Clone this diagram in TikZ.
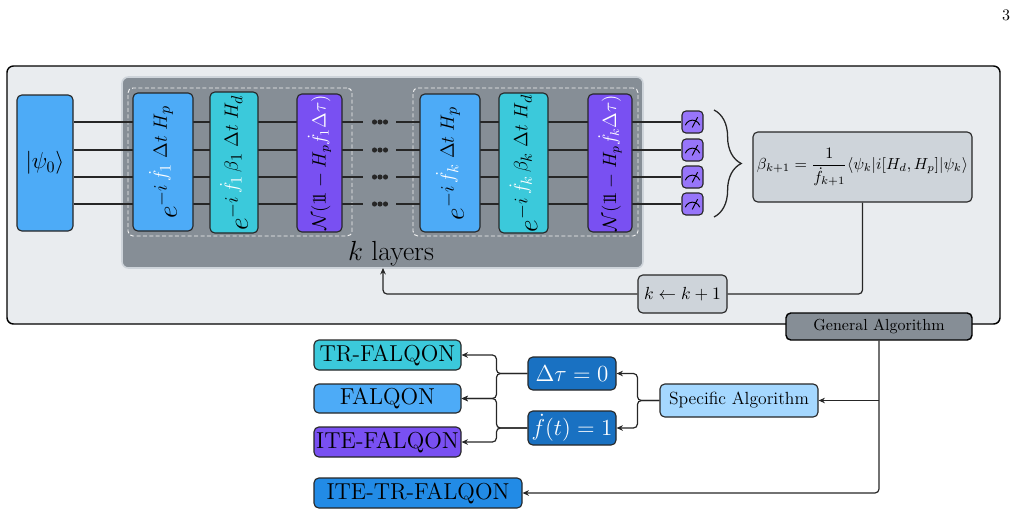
\documentclass[tikz,border=0pt]{standalone}
\usepackage{amsmath,amssymb}
\IfFileExists{dsfont.sty}{\usepackage{dsfont}\newcommand\onebb{\mathds{1}}}{\newcommand\onebb{1\kern-0.3em1}}
\usetikzlibrary{fit,arrows.meta,decorations.pathreplacing,calc}
\definecolor{cblue}{HTML}{4DABF7}
\definecolor{ccyan}{HTML}{3BC9DB}
\definecolor{cviolet}{HTML}{7950F2}
\definecolor{cmeas}{HTML}{9775FA}
\definecolor{cdark}{HTML}{1971C2}
\definecolor{cmid}{HTML}{228BE6}
\definecolor{clight}{HTML}{A5D8FF}
\definecolor{grayA}{HTML}{E9ECEF}
\definecolor{grayB}{HTML}{CED4DA}
\definecolor{grayC}{HTML}{868E96}
\definecolor{grayD}{HTML}{ADB5BD}
\tikzset{
  bx/.style={draw=black!85, line width=0.7pt, rounded corners=3pt, inner sep=0pt},
  wire/.style={line width=0.75pt, black!85},
  conn/.style={line width=0.75pt, black!85, rounded corners=2.5pt},
  arr/.style={conn, -{Stealth[length=4pt,width=3.5pt]}},
  dashbox/.style={draw=white!90!gray, line width=0.6pt, dash pattern=on 2.5pt off 1.5pt, rounded corners=3pt, inner sep=0pt},
}
\begin{document}
\begin{tikzpicture}[x=0.625pt,y=-0.625pt]
\useasboundingbox (0,0) rectangle (1018,513);
\node at (1006,15) {3};
% outer box
\node[bx, draw=black, line width=0.9pt, rounded corners=4pt, fill=grayA, fit={(7,66)(1000,324)}] (outer) {};
% k layers box
\node[inner sep=0pt, rounded corners=4pt, fill=grayC, draw=grayB, line width=1pt, fit={(122,77)(643,268)}] (layers) {};
\node[font=\LARGE] at (391,254) {$k$ layers};
\node[dashbox, fit={(128,88)(352,236)}] (dash1) {};
\node[dashbox, fit={(413,88)(638,236)}] (dash2) {};
% psi0
\node[bx, fill=cblue, fit={(17,95)(73,231)}] (psi) {};
\node[font=\Large] at (psi) {$|\psi_0\rangle$};
% measurement boxes
\foreach \i/\y in {1/122,2/150,3/177,4/204}{
  \node[bx, fill=cmeas, rounded corners=2.5pt, fit={(682,\y-11)(703,\y+11)}] (m\i) {};
  \coordinate (dl\i) at (363,\y);
  \coordinate (dr\i) at (396,\y);
  \draw[wire] (psi.east |- dl\i) -- (dl\i);
  \draw[wire] (dr\i) -- (m\i.west);
  \foreach \xx in {374.5,380,385.5}{\fill[black!85] (\xx,\y) circle (1.6pt);}
  \draw[line width=0.6pt] ([shift={(-4.5pt,-2pt)}]m\i.center) arc[start angle=160,end angle=20,radius=4.8pt];
  \draw[line width=0.6pt] ([shift={(-0.2pt,-3.4pt)}]m\i.center) -- ([shift={(3.2pt,3pt)}]m\i.center);
}
% gates
\node[bx, fill=cblue, fit={(133,93)(193,231)}] (g1) {};
\node[bx, fill=ccyan, fit={(210,92)(258,233)}] (g2) {};
\node[bx, fill=cviolet, fit={(297,94)(342,232)}] (g3) {};
\node[bx, fill=cblue, fit={(420,94)(480,232)}] (g4) {};
\node[bx, fill=ccyan, fit={(499,93)(548,233)}] (g5) {};
\node[bx, fill=cviolet, fit={(588,94)(632,232)}] (g6) {};
\node[rotate=90, font=\LARGE] at (g1) {$e^{-i\,\textcolor{white}{\dot f_1}\;\Delta t\; H_p}$};
\node[rotate=90, font=\LARGE] at (g2) {$e^{-i\,\textcolor{white}{\dot f_1}\,\beta_1\;\Delta t\; H_d}$};
\node[rotate=90, font=\large] at (g3) {$\mathcal N(\onebb-H_p\textcolor{white}{\dot f_1\Delta\tau)}$};
\node[rotate=90, font=\LARGE] at (g4) {$e^{-i\,\textcolor{white}{\dot f_k}\;\Delta t\; H_p}$};
\node[rotate=90, font=\LARGE] at (g5) {$e^{-i\,\textcolor{white}{\dot f_k}\,\beta_k\;\Delta t\; H_d}$};
\node[rotate=90, font=\large] at (g6) {$\mathcal N(\onebb-H_p\textcolor{white}{\dot f_k\Delta\tau)}$};
% brace
\draw[decorate, decoration={brace, amplitude=17pt}, line width=0.8pt, black!85] (714,110) -- (714,217);
% beta box
\node[bx, fill=grayB, fit={(753,132)(972,202)}] (beta) {};
\node at (beta) {$\beta_{k+1}=\dfrac{1}{\dot f_{k+1}}\langle\psi_k|i[H_d,H_p]|\psi_k\rangle$};
% k <- k+1
\node[bx, fill=grayB, fit={(638,275)(727,313)}] (kbox) {};
\node[font=\fontsize{11}{13}\selectfont] at (kbox) {$k\leftarrow k+1$};
\draw[conn] (beta.south) |- (kbox.east);
\coordinate (ka) at (383,268);
\draw[arr] (kbox.west) -| (ka);
% general algorithm
\node[bx, draw=black, line width=0.9pt, fill=grayC, fit={(786,313)(972,340)}] (gen) {};
\node at (gen) {General Algorithm};
% bottom boxes
\node[bx, fill=clight, fit={(660,384)(818,417)}] (spec) {};
\node[font=\fontsize{11}{13}\selectfont] at (spec) {Specific Algorithm};
\node[bx, fill=cdark, fit={(528,357)(616,390)}] (dt) {};
\node[font=\Large, text=white] at (dt) {$\Delta\tau=0$};
\node[bx, fill=cdark, fit={(528,411)(616,445)}] (fd) {};
\node[font=\Large, text=white] at (fd) {$\dot f(t)=1$};
\node[bx, fill=ccyan, fit={(314,340)(461,370)}] (tr) {};
\node[font=\Large] at (tr) {TR-FALQON};
\node[bx, fill=cblue, fit={(314,384)(461,413)}] (fal) {};
\node[font=\Large] at (fal) {FALQON};
\node[bx, fill=cviolet, fit={(314,427)(461,457)}] (ite) {};
\node[font=\Large] at (ite) {ITE-FALQON};
\node[bx, fill=cmid, fit={(314,478)(522,508)}] (itetr) {};
\node[font=\Large] at (itetr) {ITE-TR-FALQON};
% connectors
\draw[arr] (gen.south) |- (itetr.east);
\draw[arr] (gen.south |- spec.east) -- (spec.east);
\draw[arr] (spec.west) -- ++(-22,0) |- (dt.east);
\draw[arr] (spec.west) -- ++(-22,0) |- (fd.east);
\draw[arr] (dt.west) -- ++(-31,0) |- (tr.east);
\draw[arr] (dt.west) -- ++(-31,0) |- (fal.east);
\draw[arr] (fd.west) -- ++(-31,0) |- (fal.east);
\draw[arr] (fd.west) -- ++(-31,0) |- (ite.east);
\end{tikzpicture}
\end{document}
